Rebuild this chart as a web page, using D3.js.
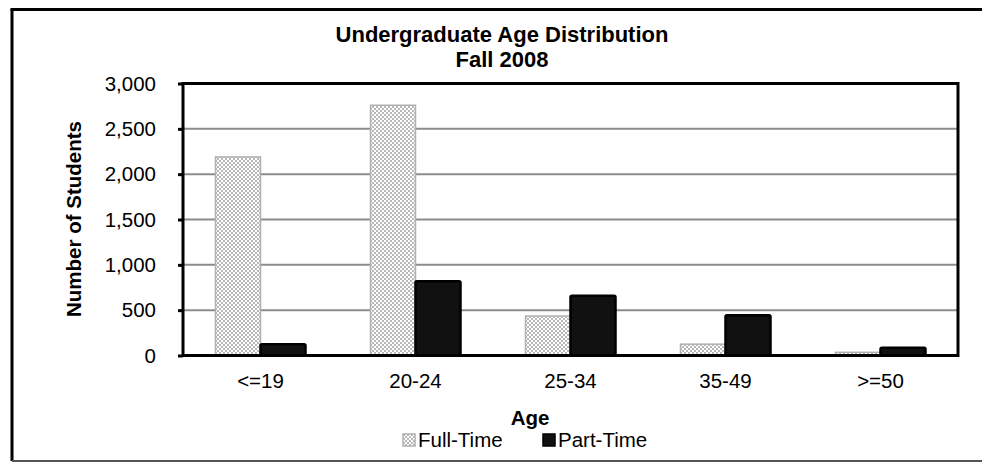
<!DOCTYPE html>
<html>
<head>
<meta charset="utf-8">
<script src="https://cdn.jsdelivr.net/npm/d3@7"></script>
<style>
  html, body { margin: 0; padding: 0; background: #fff; }
  svg { display: block; font-family: "Liberation Sans", Arial, sans-serif; }
</style>
</head>
<body>
<svg id="chart" width="982" height="464"></svg>
<script>
const categories = ["<=19", "20-24", "25-34", "35-49", ">=50"];
const seriesNames = ["Full-Time", "Part-Time"];
const fullTime = [2190, 2760, 435, 125, 35];
const partTime = [125, 820, 660, 445, 85];
const yTicks = [0, 500, 1000, 1500, 2000, 2500, 3000];
const titleLines = ["Undergraduate Age Distribution", "Fall 2008"];
const xTitle = "Age";
const yTitle = "Number of Students";

const svg = d3.select("#chart");
const W = 982, H = 464;
const plot = { left: 183, right: 958, top: 83.5, bottom: 355.5 };

// pattern for full-time bars
const defs = svg.append("defs");
const pat = defs.append("pattern").attr("id", "checker")
  .attr("patternUnits", "userSpaceOnUse").attr("width", 4).attr("height", 4);
pat.append("rect").attr("width", 4).attr("height", 4).attr("fill", "#ffffff");
pat.append("rect").attr("x", 0).attr("y", 0).attr("width", 2).attr("height", 2).attr("fill", "#b8b8b8");
pat.append("rect").attr("x", 2).attr("y", 2).attr("width", 2).attr("height", 2).attr("fill", "#b8b8b8");

// outer chart border
svg.append("line").attr("x1", 12).attr("x2", 12).attr("y1", 9).attr("y2", 461)
  .attr("stroke", "#000").attr("stroke-width", 3);
svg.append("line").attr("x1", 10.5).attr("x2", W).attr("y1", 9.5).attr("y2", 9.5)
  .attr("stroke", "#000").attr("stroke-width", 3);
svg.append("line").attr("x1", 12).attr("x2", W).attr("y1", 461).attr("y2", 461)
  .attr("stroke", "#555").attr("stroke-width", 2);

const x = d3.scaleBand().domain(categories).range([plot.left, plot.right]).padding(0);
const xs = d3.scaleBand().domain(seriesNames).range([32.5, 122.5]).padding(0);
const y = d3.scaleLinear().domain([0, 3000]).range([plot.bottom, plot.top]);

// gridlines
svg.append("g").selectAll("line").data(yTicks.filter(d => d > 0 && d < 3000)).join("line")
  .attr("x1", plot.left).attr("x2", plot.right)
  .attr("y1", d => y(d)).attr("y2", d => y(d))
  .attr("stroke", "#8c8c8c").attr("stroke-width", 2);

// bars
const data = categories.map((c, i) => ({ cat: c, values: [
  { s: "Full-Time", v: fullTime[i] }, { s: "Part-Time", v: partTime[i] } ] }));

const groups = svg.append("g").selectAll("g").data(data).join("g")
  .attr("transform", d => `translate(${x(d.cat)},0)`);

groups.selectAll("rect").data(d => d.values).join("rect")
  .attr("x", d => xs(d.s))
  .attr("width", xs.bandwidth())
  .attr("y", d => y(d.v))
  .attr("height", d => y(0) - y(d.v))
  .attr("fill", d => d.s === "Full-Time" ? "url(#checker)" : "#111111")
  .attr("stroke", d => d.s === "Full-Time" ? "#b0b0b0" : "#000")
  .attr("stroke-width", d => d.s === "Full-Time" ? 1.5 : 2.5)
  .attr("rx", d => d.s === "Full-Time" ? 0 : 1.5);

// plot frame
svg.append("rect")
  .attr("x", plot.left).attr("y", plot.top)
  .attr("width", plot.right - plot.left).attr("height", plot.bottom - plot.top)
  .attr("fill", "none").attr("stroke", "#000").attr("stroke-width", 3);

// y axis
const yAxis = d3.axisLeft(y).tickValues(yTicks).tickFormat(d3.format(",")).tickSize(5).tickPadding(22);
const yg = svg.append("g").attr("transform", `translate(${plot.left},0)`).call(yAxis);
yg.select(".domain").remove();
yg.selectAll(".tick line").attr("stroke", "#000").attr("stroke-width", 3);
yg.selectAll(".tick text").attr("font-size", 20.5).attr("fill", "#000")
  .attr("font-family", "Liberation Sans, Arial, sans-serif");

// x axis
const xAxis = d3.axisBottom(x).tickSize(0).tickPadding(18);
const xg = svg.append("g").attr("transform", `translate(0,${plot.bottom})`).call(xAxis);
xg.select(".domain").remove();
xg.selectAll(".tick text").attr("font-size", 20.5).attr("fill", "#000")
  .attr("font-family", "Liberation Sans, Arial, sans-serif");

// titles
svg.append("text").attr("x", 502).attr("y", 42).attr("text-anchor", "middle")
  .attr("font-size", 22).attr("font-weight", "bold").text(titleLines[0]);
svg.append("text").attr("x", 502).attr("y", 67).attr("text-anchor", "middle")
  .attr("font-size", 22).attr("font-weight", "bold").text(titleLines[1]);

svg.append("text").attr("x", 530).attr("y", 425).attr("text-anchor", "middle")
  .attr("font-size", 20.5).attr("font-weight", "bold").text(xTitle);

svg.append("text").attr("transform", "translate(81,219) rotate(-90)")
  .attr("text-anchor", "middle").attr("font-size", 20.5).attr("font-weight", "bold").text(yTitle);

// legend
const legendX = [403, 543];
const lg = svg.append("g").selectAll("g").data(seriesNames).join("g")
  .attr("transform", (d, i) => `translate(${legendX[i]},434)`);
lg.append("rect").attr("x", 0).attr("y", 0).attr("width", 12).attr("height", 12)
  .attr("fill", d => d === "Full-Time" ? "url(#checker)" : "#111")
  .attr("stroke", d => d === "Full-Time" ? "#b0b0b0" : "#000")
  .attr("stroke-width", 1.5);
lg.append("text").attr("x", 15).attr("y", 13).attr("font-size", 20.5).attr("fill", "#000")
  .text(d => d);
</script>
</body>
</html>
